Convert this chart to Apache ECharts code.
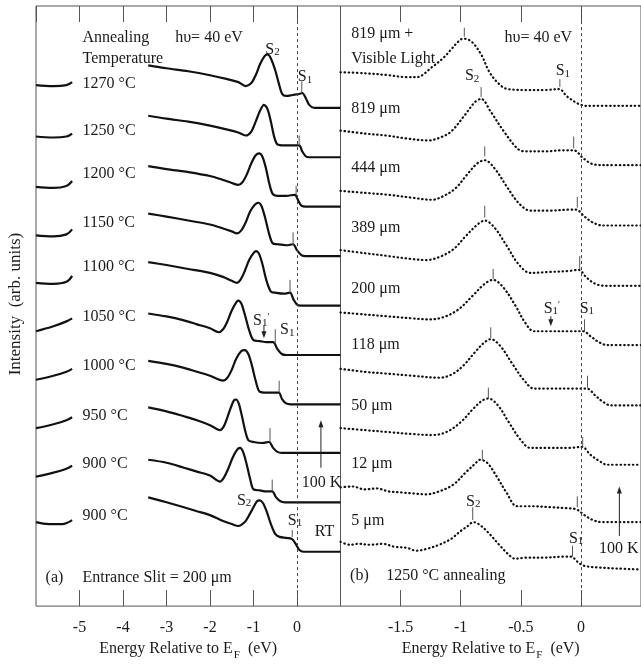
<!DOCTYPE html>
<html><head><meta charset="utf-8">
<script src="https://cdn.jsdelivr.net/npm/echarts@6/dist/echarts.min.js"></script>
<style>html,body{margin:0;padding:0;background:#fff}#c{width:641px;height:666px}</style>
</head><body><div id="c"></div>
<script>
const FONT = 'Liberation Serif';
const TXT = '#1a1a1a';

// ---------- Panel (a): annealing temperature series ----------
const tempLabels = ['1270 °C','1250 °C','1200 °C','1150 °C','1100 °C','1050 °C','1000 °C','950 °C','900 °C','900 °C'];
const offsetsA = [504,454,404,354,304,254,204,155,105,55];
const tempLabelValues = [530,483,439,390,345,295,245,195,146,93];

const leftA = [
  [[-6,23],[-5.6,22],[-5.3,23],[-5.17,26]],
  [[-6,21],[-5.6,20],[-5.3,21],[-5.17,24]],
  [[-6,20],[-5.6,19],[-5.3,21],[-5.17,26]],
  [[-6,21],[-5.6,20],[-5.3,22],[-5.17,27]],
  [[-6,23],[-5.6,22],[-5.3,24],[-5.17,30]],
  [[-6,24],[-5.6,29],[-5.3,34],[-5.17,37]],
  [[-6,25],[-5.6,29],[-5.3,33],[-5.17,36]],
  [[-6,25],[-5.6,29],[-5.3,33],[-5.17,36]],
  [[-6,26],[-5.6,30],[-5.3,34],[-5.17,37]],
  [[-6,30],[-5.7,28],[-5.4,28],[-5.17,32]]
];
const rightA = [
  [[-3.42,43],[-3.0,40],[-2.5,37],[-2.0,33],[-1.6,29],[-1.35,26],[-1.18,22],[-1.05,25],[-0.95,33],[-0.85,44],[-0.75,52],[-0.68,54],[-0.6,50],[-0.5,38],[-0.42,25],[-0.34,14],[-0.25,12],[-0.1,13],[0.05,14],[0.12,15],[0.2,10],[0.28,3],[0.4,0],[1.0,0]],
  [[-3.42,42],[-3.0,39],[-2.5,36],[-2.0,32],[-1.6,28],[-1.35,25],[-1.18,22],[-1.05,26],[-0.95,36],[-0.85,47],[-0.76,53],[-0.68,49],[-0.6,36],[-0.52,20],[-0.45,13],[-0.3,12],[-0.1,12],[0.05,12],[0.12,6],[0.2,1],[0.28,0],[1.0,0]],
  [[-3.42,41],[-3.0,38],[-2.5,35],[-2.0,31],[-1.7,27],[-1.5,24],[-1.35,22],[-1.25,25],[-1.15,33],[-1.05,44],[-0.95,52],[-0.87,54],[-0.8,51],[-0.72,40],[-0.64,24],[-0.56,13],[-0.45,11],[-0.25,11],[-0.05,12],[0.03,6],[0.1,1],[0.2,0],[1.0,0]],
  [[-3.42,43],[-3.0,40],[-2.5,36],[-2.0,32],[-1.7,28],[-1.5,25],[-1.38,23],[-1.28,26],[-1.18,34],[-1.08,45],[-0.97,52],[-0.89,54],[-0.82,51],[-0.74,40],[-0.65,24],[-0.56,13],[-0.45,12],[-0.25,11],[-0.09,12],[0.0,6],[0.1,1],[0.2,0],[1.0,0]],
  [[-3.42,44],[-3.0,41],[-2.5,37],[-2.0,33],[-1.7,29],[-1.5,25],[-1.38,23],[-1.3,26],[-1.2,35],[-1.1,46],[-1.0,53],[-0.94,55],[-0.87,52],[-0.79,41],[-0.7,25],[-0.6,14],[-0.5,13],[-0.3,12],[-0.16,13],[-0.08,6],[0.0,1],[0.08,0],[1.0,0]],
  [[-3.42,42],[-3.0,39],[-2.6,35],[-2.3,31],[-2.0,27],[-1.8,23],[-1.7,26],[-1.6,34],[-1.5,45],[-1.4,53],[-1.35,55],[-1.28,52],[-1.2,41],[-1.1,25],[-1.0,15],[-0.85,14],[-0.7,13],[-0.55,13],[-0.45,6],[-0.35,1],[-0.25,0],[1.0,0]],
  [[-3.42,44],[-3.0,41],[-2.6,37],[-2.3,33],[-2.0,29],[-1.7,24],[-1.6,27],[-1.5,35],[-1.4,46],[-1.28,54],[-1.2,55],[-1.12,51],[-1.04,40],[-0.95,24],[-0.86,13],[-0.7,12],[-0.55,12],[-0.42,12],[-0.34,5],[-0.25,1],[-0.15,0],[1.0,0]],
  [[-3.42,46],[-3.0,42],[-2.6,37],[-2.3,33],[-2.0,28],[-1.77,23],[-1.68,27],[-1.6,36],[-1.52,46],[-1.45,53],[-1.4,54],[-1.34,50],[-1.27,38],[-1.2,24],[-1.12,13],[-1.0,11],[-0.8,10],[-0.64,11],[-0.55,5],[-0.45,1],[-0.35,0],[1.0,0]],
  [[-3.42,43],[-3.0,40],[-2.6,35],[-2.3,31],[-2.0,27],[-1.77,21],[-1.68,25],[-1.58,34],[-1.48,45],[-1.38,53],[-1.31,55],[-1.24,51],[-1.16,39],[-1.08,24],[-1.0,13],[-0.85,12],[-0.7,11],[-0.57,11],[-0.48,5],[-0.38,1],[-0.28,0],[1.0,0]],
  [[-3.42,55],[-3.0,50],[-2.6,45],[-2.3,41],[-2.0,37],[-1.7,31],[-1.5,28],[-1.35,26],[-1.2,30],[-1.1,37],[-1.0,45],[-0.92,51],[-0.85,52],[-0.78,49],[-0.7,41],[-0.6,28],[-0.5,18],[-0.4,15],[-0.25,14],[-0.12,13],[-0.03,8],[0.05,2],[0.15,0],[1.0,0]]
];
// S1 marker ticks in panel (a): [energy, low, high]
const ticksA = [[0.11,520,531],[0.05,466,476],[-0.02,416,425],[-0.09,365,378],[-0.16,317,330],[-0.50,266,280],[-0.41,216,228],[-0.62,166,180],[-0.57,116,128],[-0.11,70,77]];

// ---------- Panel (b): entrance slit series ----------
const slitLabels = ['819 μm','444 μm','389 μm','200 μm','118 μm','50 μm','12 μm','5 μm'];
const slitLabelValues = [505,445,385,323,266,205,146,88];
const offsetsB = [506,446,385,324,264,203,143,85,38];
const curvesB = [
  [[-2.0,34],[-1.8,33],[-1.6,31],[-1.45,29],[-1.37,29],[-1.23,40],[-1.14,49],[-1.08,57],[-1.02,65],[-0.98,68],[-0.91,65],[-0.83,52],[-0.76,34],[-0.68,22],[-0.61,17],[-0.45,16],[-0.3,16],[-0.18,17],[-0.12,10],[-0.05,4],[0.0,1],[0.05,0],[0.5,0]],
  [[-2.0,35],[-1.8,32],[-1.62,30],[-1.45,27],[-1.27,25],[-1.17,28],[-1.08,34],[-0.97,50],[-0.88,64],[-0.83,67],[-0.75,54],[-0.64,34],[-0.53,17],[-0.47,14],[-0.3,14],[-0.15,15],[-0.06,15],[0.02,7],[0.1,1],[0.2,0],[0.5,0]],
  [[-2.0,35],[-1.8,33],[-1.6,31],[-1.4,28],[-1.24,26],[-1.14,30],[-1.04,38],[-0.95,51],[-0.86,63],[-0.8,66],[-0.72,58],[-0.62,40],[-0.52,23],[-0.42,15],[-0.25,15],[-0.1,16],[-0.04,16],[0.03,9],[0.1,3],[0.18,0],[0.5,0]],
  [[-2.0,36],[-1.8,33],[-1.6,30],[-1.4,27],[-1.29,26],[-1.18,29],[-1.06,37],[-0.96,50],[-0.86,62],[-0.8,66],[-0.72,59],[-0.62,41],[-0.52,22],[-0.42,13],[-0.25,14],[-0.1,15],[-0.02,16],[0.05,8],[0.12,2],[0.2,0],[0.5,0]],
  [[-2.0,33],[-1.8,31],[-1.6,29],[-1.4,27],[-1.27,26],[-1.15,28],[-1.02,36],[-0.9,50],[-0.8,62],[-0.73,66],[-0.65,59],[-0.55,41],[-0.46,22],[-0.39,14],[-0.25,14],[-0.1,14],[0.02,14],[0.08,9],[0.15,3],[0.22,0],[0.5,0]],
  [[-2.0,37],[-1.8,34],[-1.6,32],[-1.4,30],[-1.18,28],[-1.08,31],[-0.98,40],[-0.88,54],[-0.8,64],[-0.75,67],[-0.67,60],[-0.57,42],[-0.47,25],[-0.39,17],[-0.25,17],[-0.1,17],[0.05,17],[0.12,10],[0.18,4],[0.25,0],[0.5,0]],
  [[-2.0,37],[-1.8,35],[-1.6,33],[-1.4,31],[-1.24,30],[-1.12,33],[-1.0,43],[-0.9,56],[-0.82,65],[-0.77,67],[-0.69,60],[-0.6,43],[-0.5,25],[-0.42,17],[-0.25,17],[-0.1,17],[0.01,18],[0.08,10],[0.15,4],[0.22,0],[0.5,0]],
  [[-2.0,35],[-1.9,36],[-1.8,33],[-1.7,34],[-1.6,31],[-1.5,30],[-1.4,29],[-1.29,28],[-1.18,31],[-1.06,38],[-0.96,50],[-0.88,59],[-0.84,63],[-0.78,60],[-0.7,46],[-0.62,30],[-0.53,16],[-0.4,16],[-0.25,15],[-0.12,14],[-0.04,13],[0.03,7],[0.1,2],[0.17,0],[0.5,0]],
  [[-2.0,27],[-1.92,24],[-1.85,25],[-1.75,24],[-1.65,25],[-1.55,22],[-1.45,21],[-1.37,18],[-1.28,20],[-1.18,24],[-1.08,30],[-1.0,38],[-0.93,44],[-0.9,47],[-0.84,44],[-0.76,35],[-0.68,24],[-0.6,14],[-0.55,10],[-0.45,11],[-0.3,11],[-0.15,12],[-0.08,12],[-0.03,7],[0.02,3],[0.15,1],[0.3,0],[0.5,-1]]
];
// S2 / S1 marker ticks in panel (b): [energy, low, high]
const ticksB = [
  [-0.97,576,585],[-0.175,525,533],
  [-0.83,515,525],[-0.06,463,475],
  [-0.80,455,465],[-0.03,403,414],
  [-0.80,393,405],[-0.01,341,354],
  [-0.73,331,341],[0.03,278,290],
  [-0.75,271,282],[0.055,221,233],
  [-0.77,210,221],[0.015,161,171],
  [-0.82,148,158],[-0.03,100,111],
  [-0.90,87,100],[-0.07,50,61]
];

// arrows: [energy, from, to]
const arrowsA = [[-0.76,284,271],[0.55,140,188]];
const arrowsB = [[-0.25,293,283],[0.32,71,121]];

const RICH = {
  d: {fontSize: 11, fontFamily: FONT, fill: TXT, verticalAlign: 'bottom'},
  p: {fontSize: 10, fontFamily: FONT, fill: TXT, verticalAlign: 'top'}
};

const annotA = tempLabels.map((t, i) => [-4.93, tempLabelValues[i], t]).concat([
  [-4.93, 577, 'Annealing'], [-4.93, 556, 'Temperature'], [-2.80, 577, 'hυ= 40 eV'],
  [-0.73, 565, 'S{d|2}'], [0.02, 537, 'S{d|1}'],
  [-1.01, 291, 'S{d|1}{p|\'}'], [-0.39, 281, 'S{d|1}'],
  [-1.38, 109, 'S{d|2}'], [-0.21, 88, 'S{d|1}'], [0.41, 77, 'RT'], [0.11, 127, '100 K'],
  [-5.78, 31, '(a)'], [-4.93, 31, 'Entrance Slit = 200 μm']
]);
const annotB = slitLabels.map((t, i) => [-1.91, slitLabelValues[i], t]).concat([
  [-1.91, 581, '819 μm +'], [-1.91, 556, 'Visible Light'], [-0.635, 577, 'hυ= 40 eV'],
  [-0.965, 538, 'S{d|2}'], [-0.21, 543, 'S{d|1}'],
  [-0.31, 303, 'S{d|1}{p|\'}'], [-0.01, 303, 'S{d|1}'],
  [-0.955, 108, 'S{d|2}'], [-0.10, 70, 'S{d|1}'], [0.15, 60, '100 K'],
  [-1.92, 33, '(b)'], [-1.62, 33, '1250 °C annealing']
]);

function textSeries(idx, items) {
  return {
    type: 'custom', xAxisIndex: idx, yAxisIndex: idx, silent: true, z: 20, clip: false,
    data: items.map(a => [a[0], a[1]]),
    renderItem: (params, api) => {
      const it = items[params.dataIndex];
      const p = api.coord([api.value(0), api.value(1)]);
      return {type: 'text', x: p[0], y: p[1] + 2, style: {
        text: it[2], fill: TXT, fontSize: 16, fontFamily: FONT,
        align: 'left', verticalAlign: 'middle', rich: RICH}};
    }
  };
}
function tickSeries(idx, items) {
  return {
    type: 'custom', xAxisIndex: idx, yAxisIndex: idx, silent: true, z: 15, clip: false,
    data: items,
    renderItem: (params, api) => {
      const a = api.coord([api.value(0), api.value(1)]);
      const b = api.coord([api.value(0), api.value(2)]);
      return {type: 'line', shape: {x1: a[0], y1: a[1], x2: b[0], y2: b[1]},
        style: {stroke: '#555', lineWidth: 1}};
    }
  };
}
function arrowSeries(idx, items) {
  return {
    type: 'custom', xAxisIndex: idx, yAxisIndex: idx, silent: true, z: 15, clip: false,
    data: items,
    renderItem: (params, api) => {
      const a = api.coord([api.value(0), api.value(1)]);
      const b = api.coord([api.value(0), api.value(2)]);
      const dir = b[1] < a[1] ? -1 : 1;
      return {type: 'group', children: [
        {type: 'line', shape: {x1: a[0], y1: a[1], x2: b[0], y2: b[1] - dir * 4},
          style: {stroke: '#222', lineWidth: 1}},
        {type: 'polygon', shape: {points: [[b[0], b[1]], [b[0] - 2.5, b[1] - dir * 7], [b[0] + 2.5, b[1] - dir * 7]]},
          style: {fill: '#222'}}
      ]};
    }
  };
}

const series = [];
rightA.forEach((c, i) => {
  series.push({type: 'line', xAxisIndex: 0, yAxisIndex: 0, data: c.map(p => [p[0], offsetsA[i] + p[1]]),
    smooth: 0.3, showSymbol: false, silent: true, lineStyle: {color: '#111', width: 2.2}});
  series.push({type: 'line', xAxisIndex: 0, yAxisIndex: 0, data: leftA[i].map(p => [p[0], offsetsA[i] + p[1]]),
    smooth: 0.4, showSymbol: false, silent: true, lineStyle: {color: '#111', width: 2.2}});
});
curvesB.forEach((c, i) => {
  series.push({type: 'line', xAxisIndex: 1, yAxisIndex: 1, data: c.map(p => [p[0], offsetsB[i] + p[1]]),
    smooth: 0.35, showSymbol: false, silent: true,
    lineStyle: {color: '#111', width: 2.2, type: [0.5, 3.6], cap: 'round'}});
});
const dashLine = {silent: true, symbol: 'none', label: {show: false},
  lineStyle: {type: [3, 3], color: '#444', width: 1}, data: [{xAxis: 0}]};
series.push({type: 'line', xAxisIndex: 0, yAxisIndex: 0, data: [], markLine: dashLine});
series.push({type: 'line', xAxisIndex: 1, yAxisIndex: 1, data: [], markLine: dashLine});
series.push(tickSeries(0, ticksA), tickSeries(1, ticksB));
series.push(arrowSeries(0, arrowsA), arrowSeries(1, arrowsB));
series.push(textSeries(0, annotA), textSeries(1, annotB));

const axisName = '{m|Energy Relative to E}{f|F}{m|  (eV)}';
const nameStyle = {color: TXT, fontFamily: FONT, fontSize: 16, rich: {
  m: {fontSize: 16, fontFamily: FONT, color: TXT, verticalAlign: 'top', lineHeight: 18},
  f: {fontSize: 11, fontFamily: FONT, color: TXT, verticalAlign: 'top', lineHeight: 12, padding: [9, 0, 0, 1]}
}};
function xAx(grid, min, max, interval, pos, labels, name) {
  return {type: 'value', gridIndex: grid, min, max, interval, position: pos,
    axisLine: {show: false},
    axisTick: {show: true, inside: true, length: 16, lineStyle: {color: '#555', width: 1}},
    axisLabel: {show: labels, showMinLabel: false, showMaxLabel: false, margin: 14,
      color: TXT, fontFamily: FONT, fontSize: 16},
    splitLine: {show: false},
    name: name || '', nameLocation: 'middle', nameGap: 32, nameTextStyle: nameStyle};
}

const option = {
  animation: false,
  backgroundColor: '#fff',
  grid: [
    {left: 36, top: 6, width: 304.5, height: 607, show: true, borderColor: '#555', borderWidth: 1},
    {left: 340.5, top: 6, width: 304.5, height: 607, show: true, borderColor: '#555', borderWidth: 1}
  ],
  xAxis: [
    xAx(0, -6, 1, 1, 'bottom', true, axisName),
    xAx(1, -2, 0.5, 0.5, 'bottom', true, axisName),
    xAx(0, -6, 1, 1, 'top', false),
    xAx(1, -2, 0.5, 0.5, 'top', false)
  ],
  yAxis: [
    {type: 'value', gridIndex: 0, min: 0, max: 607, axisLine: {show: false}, axisTick: {show: false},
      axisLabel: {show: false}, splitLine: {show: false},
      name: 'Intensity  (arb. units)', nameLocation: 'middle', nameGap: 12, nameRotate: 90,
      nameTextStyle: {color: TXT, fontFamily: FONT, fontSize: 17, padding: [0, 0, 0, 4]}},
    {type: 'value', gridIndex: 1, min: 0, max: 607, axisLine: {show: false}, axisTick: {show: false},
      axisLabel: {show: false}, splitLine: {show: false}}
  ],
  series
};
const chart = echarts.init(document.getElementById('c'), null, {renderer: 'canvas'});
chart.setOption(option);
</script></body></html>
